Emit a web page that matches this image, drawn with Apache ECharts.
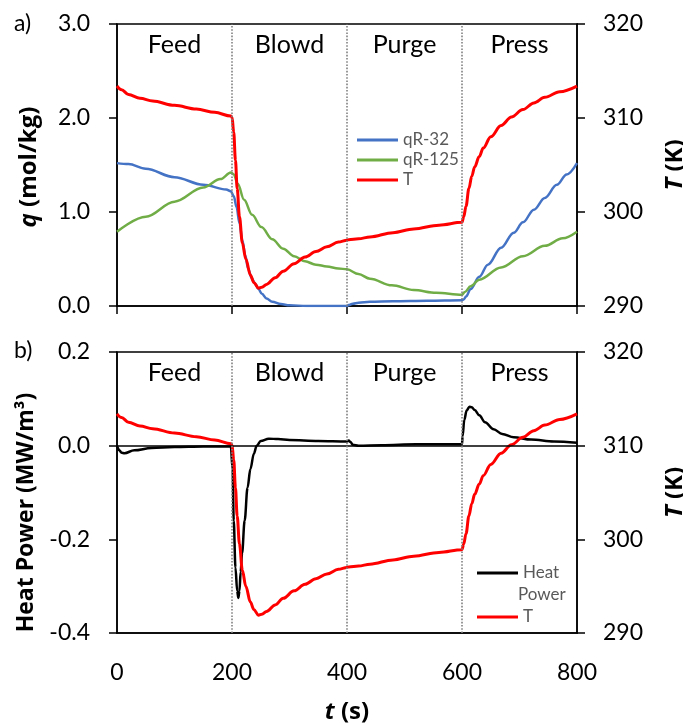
<!DOCTYPE html>
<html><head><meta charset="utf-8">
<script src="https://cdn.jsdelivr.net/npm/echarts@6/dist/echarts.min.js"></script>
<style>html,body{margin:0;padding:0;background:#fff}#c{width:683px;height:725px}</style>
</head><body><div id="c"></div>
<script>
var phases = ['Feed', 'Blowd', 'Purge', 'Press'];
var phaseBounds = [0, 200, 400, 600, 800];
var xTicks = [0, 200, 400, 600, 800];

var tQ32 = [0,20,50,100,150,190,198,203,208,213,218,223,228,234,240,246,252,260,270,285,300,330,370,400,403,410,420,440,480,540,600,603,607,615,630,645,668,690,706,725,744,765,782,800];
var q32  = [1.52,1.51,1.46,1.37,1.29,1.24,1.22,1.17,1.05,0.88,0.70,0.54,0.40,0.30,0.24,0.18,0.13,0.08,0.045,0.02,0.008,0.0,0.0,0.0,0.01,0.025,0.035,0.045,0.05,0.055,0.06,0.07,0.1,0.18,0.31,0.44,0.62,0.78,0.89,1.025,1.15,1.29,1.40,1.52];

var tQ125 = [0,50,100,150,180,198,203,210,221,235,251,270,289,308,327,346,365,385,400,420,440,478,516,555,600,605,615,630,668,706,744,775,800];
var q125  = [0.79,0.95,1.11,1.26,1.35,1.42,1.40,1.30,1.13,0.97,0.84,0.71,0.61,0.53,0.475,0.44,0.42,0.40,0.39,0.34,0.29,0.22,0.17,0.14,0.12,0.15,0.21,0.28,0.41,0.53,0.64,0.72,0.79];

var tT = [0,8,20,40,62,100,138,170,198,200,203,206,209,213,218,224,232,238,246,252,260,275,289,308,327,346,365,385,400,403,420,440,480,516,560,600,603,607,612,617,622,630,637,650,668,686,706,725,744,770,800];
var T  = [313.4,313.0,312.5,312.1,311.8,311.35,310.95,310.6,310.2,310.1,308.5,305.5,302.5,299.5,296.7,295.0,293.3,292.5,291.9,292.0,292.3,293.0,293.7,294.5,295.2,295.8,296.3,296.8,297.0,297.05,297.15,297.35,297.8,298.2,298.6,298.9,299.5,300.6,302.5,303.8,304.8,305.9,306.8,308.0,309.2,310.1,310.9,311.6,312.2,312.8,313.4];

var tHeat = [0,4,8,13,30,60,100,150,198,201,203,206,209,211,213,215,217.5,222,227,232,238,243,250,264,280,300,350,400,403,406,410,420,460,520,600,601,604,608,613,617,622,630,640,655,670,690,720,760,800];
var heat  = [0.0,-0.01,-0.015,-0.016,-0.01,-0.005,-0.003,-0.002,-0.002,-0.05,-0.16,-0.26,-0.31,-0.325,-0.31,-0.27,-0.23,-0.16,-0.09,-0.05,-0.017,0.0,0.01,0.015,0.014,0.012,0.01,0.009,0.011,0.008,0.002,0.0,0.001,0.003,0.003,0.02,0.055,0.075,0.083,0.082,0.076,0.065,0.05,0.035,0.025,0.018,0.013,0.009,0.006];

var qTicks = [0, 1, 2, 3];
var hpTicks = [-0.4, -0.2, 0.0, 0.2];
var tTicks = [290, 300, 310, 320];

function pairs(xs, ys){ return xs.map(function(x,i){ return [x, ys[i]]; }); }

var FONT = 'Lato';
var TITLE_FONT = 'Open Sans';
var axisLineStyle = {color:'#000', width:1.5};
var phaseAreas = phases.map(function(p,i){ return [{xAxis: phaseBounds[i], name: p}, {xAxis: phaseBounds[i+1]}]; });
var dividers = phaseBounds.slice(1,4).map(function(v){ return {xAxis: v}; });

function titleStyle(size, pad){
  return {color:'#000', fontFamily:TITLE_FONT, fontSize:size, fontWeight:'bold', padding: pad || 0,
    rich:{i:{fontStyle:'italic', fontWeight:'bold', fontFamily:TITLE_FONT, fontSize:size, color:'#000'}}};
}
function yLeft(gi, ticks, name, size, pad){
  return {
    type:'value', gridIndex: gi, min: ticks[0], max: ticks[ticks.length-1], interval: ticks[1]-ticks[0],
    axisLine:{show:true, lineStyle: axisLineStyle},
    axisTick:{show:true, length:8, lineStyle: axisLineStyle},
    splitLine:{show:false},
    axisLabel:{color:'#000', fontFamily: FONT, fontSize: 23, margin: 27, formatter: function(v){ return (Math.abs(v)<1e-9?0:v).toFixed(1); }},
    name: name, nameLocation:'middle', nameRotate: 90, nameGap: 76,
    nameTextStyle: titleStyle(size, pad)
  };
}
function yRight(gi){
  return {
    type:'value', gridIndex: gi, position:'right', min: tTicks[0], max: tTicks[tTicks.length-1], interval: 10,
    axisLine:{show:true, lineStyle: axisLineStyle},
    axisTick:{show:true, length:8, lineStyle: axisLineStyle},
    splitLine:{show:false},
    axisLabel:{color:'#000', fontFamily: FONT, fontSize: 23, margin: 26},
    name: '{i|T} (K)', nameLocation:'middle', nameRotate: 90, nameGap: 86,
    nameTextStyle: titleStyle(24)
  };
}
function phaseLabelArea(dist){
  return {
    silent:true, itemStyle:{color:'rgba(0,0,0,0)'},
    label:{show:true, position:'insideTop', distance: dist, color:'#000', fontFamily: FONT, fontSize: 25},
    data: phaseAreas
  };
}
var dividerStyle = {color:'#808080', type:'dotted', width:1.6};

var lineCommon = {type:'line', showSymbol:false, smooth:0.35, smoothMonotone:'x'};

var option = {
  animation:false,
  backgroundColor:'#fff',
  grid:[
    {left:117, right:106, top:24, height:282, outerBoundsMode:'none', containLabel:false, show:true, borderColor:'#000', borderWidth:1.5, backgroundColor:'rgba(0,0,0,0)'},
    {left:117, right:106, top:352, height:281, outerBoundsMode:'none', containLabel:false, show:true, borderColor:'#000', borderWidth:1.5, backgroundColor:'rgba(0,0,0,0)'}
  ],
  xAxis:[
    {type:'value', gridIndex:0, min:xTicks[0], max:xTicks[xTicks.length-1], interval:200,
     axisLine:{show:true, onZero:false, lineStyle:axisLineStyle}, axisTick:{show:true, length:8, lineStyle:axisLineStyle},
     axisLabel:{show:false}, splitLine:{show:false}},
    {type:'value', gridIndex:1, min:xTicks[0], max:xTicks[xTicks.length-1], interval:200,
     axisLine:{show:true, onZero:false, lineStyle:axisLineStyle}, axisTick:{show:false},
     axisLabel:{color:'#000', fontFamily:FONT, fontSize:23, margin:28}, splitLine:{show:false},
     name:'{i|t} (s)', nameLocation:'middle', nameGap:67, nameTextStyle: titleStyle(24)}
  ],
  yAxis:[
    yLeft(0, qTicks, '{i|q} (mol/kg)', 24, [0, 4, 0, 0]),
    yRight(0),
    yLeft(1, hpTicks, 'Heat Power (MW/m³)', 23, [0, 40, 0, 0]),
    yRight(1)
  ],
  legend:[
    {orient:'vertical', left:352, top:126, itemWidth:41, itemHeight:3, itemGap:2, icon:'rect',
     textStyle:{color:'#595959', fontFamily:FONT, fontSize:17, lineHeight:18}, data:['qR-32','qR-125','T']},
    {orient:'vertical', left:472, top:559, itemWidth:41, itemHeight:3, icon:'rect',
     formatter:function(n){ return n.split(' ')[0]; },
     textStyle:{color:'#595959', fontFamily:FONT, fontSize:17, lineHeight:18}, data:['Heat Power']},
    {orient:'vertical', left:472, top:603, itemWidth:41, itemHeight:3, icon:'rect',
     textStyle:{color:'#595959', fontFamily:FONT, fontSize:17, lineHeight:18}, data:['T']}
  ],
  graphic:[
    {type:'text', left:14, top:12, style:{text:'a)', fontFamily:FONT, fontSize:23, fill:'#000'}},
    {type:'text', left:14, top:339, style:{text:'b)', fontFamily:FONT, fontSize:23, fill:'#000'}},
    {type:'text', left:518, top:586, style:{text:'Power', fontFamily:FONT, fontSize:17, fill:'#595959'}}
  ],
  series:[
    Object.assign({}, lineCommon, {name:'qR-32', xAxisIndex:0, yAxisIndex:0, data:pairs(tQ32,q32),
      lineStyle:{color:'#4472C4', width:2.5}, itemStyle:{color:'#4472C4'}, z:3,
      markLine:{silent:true, symbol:'none', label:{show:false}, lineStyle:dividerStyle, data:dividers},
      markArea: phaseLabelArea(8)}),
    Object.assign({}, lineCommon, {name:'qR-125', xAxisIndex:0, yAxisIndex:0, data:pairs(tQ125,q125),
      lineStyle:{color:'#70AD47', width:2.5}, itemStyle:{color:'#70AD47'}, z:3}),
    Object.assign({}, lineCommon, {name:'T', xAxisIndex:0, yAxisIndex:1, data:pairs(tT,T),
      lineStyle:{color:'#FF0000', width:3}, itemStyle:{color:'#FF0000'}, z:4}),
    Object.assign({}, lineCommon, {name:'Heat Power', xAxisIndex:1, yAxisIndex:2, data:pairs(tHeat,heat),
      lineStyle:{color:'#000', width:2.5}, itemStyle:{color:'#000'}, z:3,
      markLine:{silent:true, symbol:'none', label:{show:false},
        data:[{yAxis:0, lineStyle:{color:'#000', type:'solid', width:1.5}}].concat(dividers.map(function(d){ return Object.assign({lineStyle:dividerStyle}, d); }))},
      markArea: phaseLabelArea(8)}),
    Object.assign({}, lineCommon, {name:'T', xAxisIndex:1, yAxisIndex:3, data:pairs(tT,T),
      lineStyle:{color:'#FF0000', width:3}, itemStyle:{color:'#FF0000'}, z:4})
  ]
};
echarts.init(document.getElementById('c'), null, {renderer:'canvas'}).setOption(option);
</script></body></html>
